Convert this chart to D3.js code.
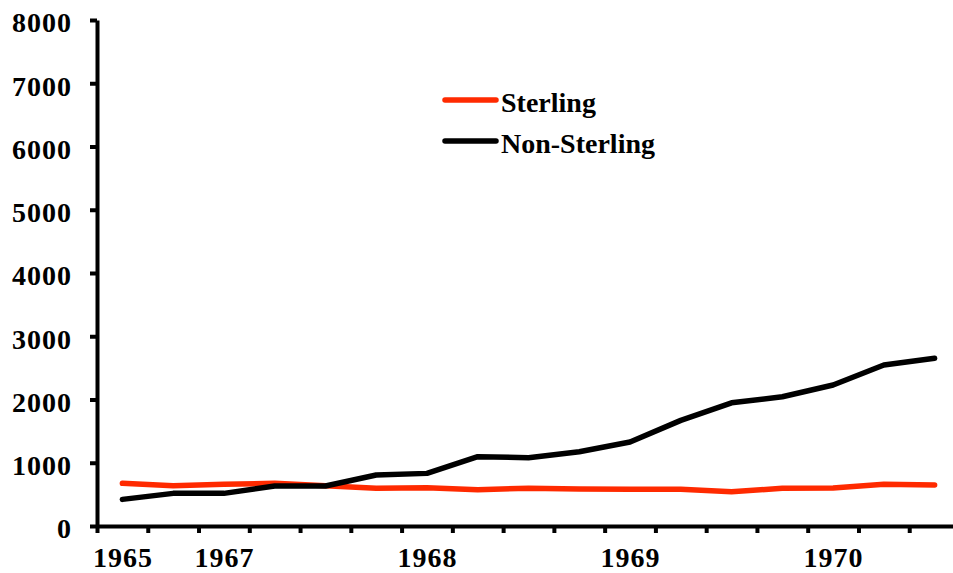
<!DOCTYPE html>
<html><head><meta charset="utf-8">
<script src="https://cdn.jsdelivr.net/npm/d3@7"></script>
<style>body{margin:0;background:#fff}svg{display:block}</style>
</head><body>
<svg id="c" width="953" height="573"></svg>
<script>
const categories = ["1965","","1967","","","","1968","","","","1969","","","","1970","",""];
const sterling = [675, 637, 659, 675, 637, 596, 606, 575, 596, 585, 580, 580, 542, 596, 600, 659, 648];
const nonSterling = [421, 516, 516, 632, 632, 806, 832, 1096, 1080, 1175, 1328, 1670, 1948, 2043, 2230, 2545, 2652];
const yTicks = [0,1000,2000,3000,4000,5000,6000,7000,8000];
const seriesNames = ["Sterling","Non-Sterling"];
const colors = ["#ff2a00","#000000"];

const svg = d3.select("#c");
const font = "'Liberation Serif', 'Times New Roman', serif";
const n = categories.length;
const x = d3.scaleLinear().domain([0, n]).range([97, 960]);
const y = d3.scaleLinear().domain([0, 8000]).range([526, 20]);

// y axis
const ya = svg.append("g").attr("transform","translate(97,0)")
  .call(d3.axisLeft(y).tickValues(yTicks).tickSize(7).tickSizeOuter(0).tickPadding(18).tickFormat(d3.format("d")));
ya.select(".domain").attr("stroke","#000").attr("stroke-width",4);
ya.selectAll(".tick line").attr("stroke","#000").attr("stroke-width",4);
ya.selectAll(".tick text").attr("font-family",font).attr("font-weight","bold").attr("font-size",28).attr("dy","0.42em").attr("letter-spacing",1).attr("fill","#000");

// x axis (ticks at category boundaries)
const xa = svg.append("g").attr("transform","translate(0,526)")
  .call(d3.axisBottom(x).tickValues(d3.range(0, n + 1)).tickSize(7).tickSizeOuter(0).tickFormat(""));
xa.select(".domain").attr("stroke","#000").attr("stroke-width",4);
xa.selectAll(".tick line").attr("stroke","#000").attr("stroke-width",4);

// x labels at category centres
const labelIdx = categories.map((c,i)=>c ? i : -1).filter(i=>i>=0);
const xl = svg.append("g").attr("transform","translate(0,526)")
  .call(d3.axisBottom(x).tickValues(labelIdx.map(i=>i+0.5)).tickSize(0).tickFormat(d=>categories[Math.round(d-0.5)]));
xl.select(".domain").remove();
xl.selectAll(".tick text").attr("font-family",font).attr("font-weight","bold").attr("font-size",28)
  .attr("y",41).attr("dy","0").attr("letter-spacing",1).attr("fill","#000");

// lines
const line = d3.line().x((d,i)=>x(i+0.5)).y(d=>y(d));
[sterling, nonSterling].forEach((s,k)=>{
  svg.append("path").datum(s).attr("d",line).attr("fill","none")
    .attr("stroke",colors[k]).attr("stroke-width",5.5)
    .attr("stroke-linejoin","round").attr("stroke-linecap","round");
});

// legend
const lg = svg.append("g");
seriesNames.forEach((nm,k)=>{
  const yy = 100 + k*41;
  lg.append("line").attr("x1",445).attr("x2",496).attr("y1",yy).attr("y2",yy)
    .attr("stroke",colors[k]).attr("stroke-width",5.5).attr("stroke-linecap","round");
  lg.append("text").attr("x",501).attr("y",yy+11.5).text(nm)
    .attr("font-family",font).attr("font-weight","bold").attr("font-size",28).attr("fill","#000");
});
</script>
</body></html>
